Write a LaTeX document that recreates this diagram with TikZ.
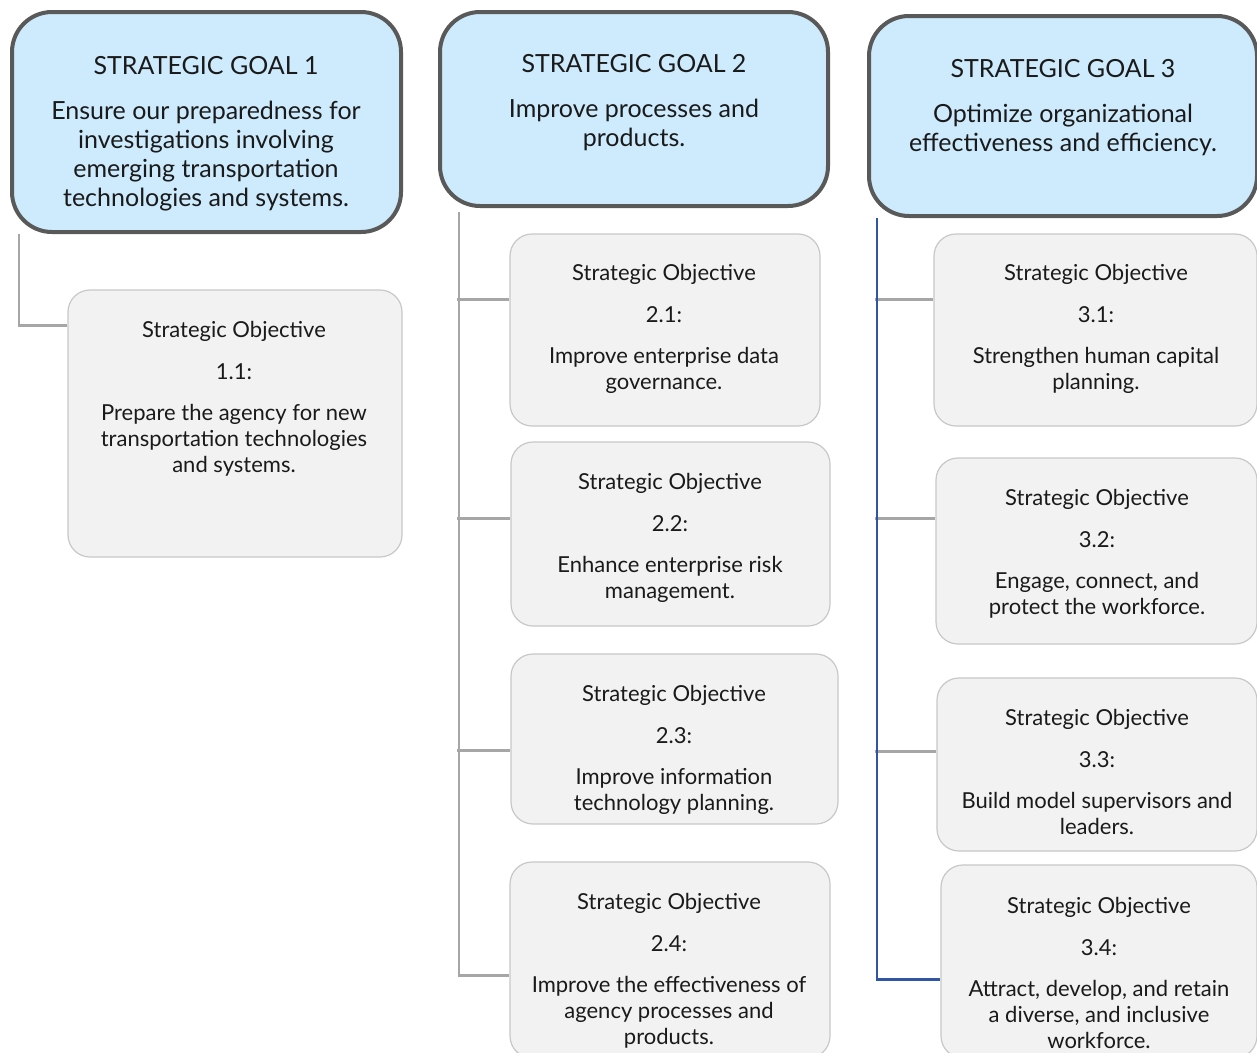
\documentclass[tikz,border=0pt]{standalone}
\usepackage{fontspec}
\setmainfont{Lato}
\usetikzlibrary{backgrounds}
\definecolor{goalfill}{HTML}{CDEBFD}
\definecolor{goalline}{HTML}{595959}
\definecolor{objfill}{HTML}{F2F2F2}
\definecolor{objline}{HTML}{C8C8C8}
\definecolor{connline}{HTML}{A6A6A6}
\definecolor{blueline}{HTML}{2F55A3}
\definecolor{txt}{HTML}{1A1A1A}
\tikzset{
  goalbox/.style={draw=goalline, line width=4pt, fill=goalfill, rounded corners=40pt, inner sep=0pt},
  objbox/.style={draw=objline, line width=1.2pt, fill=objfill, rounded corners=22pt, inner sep=0pt},
  goaltext/.style={anchor=north, inner sep=0pt, align=center, text=txt, font=\fontsize{25}{29}\selectfont},
  objtext/.style={anchor=north, inner sep=0pt, align=center, text=txt, font=\fontsize{22}{26}\selectfont},
  conn/.style={draw=connline, line width=2.2pt},
  bconn/.style={draw=blueline, line width=2.2pt},
}
\begin{document}
\begin{tikzpicture}[x=1pt,y=-1pt]
\clip (0,0) rectangle (1257,1052);
% goals
\node[goalbox, minimum width=389pt, minimum height=220pt] (g1) at (206.5,122) {};
\node[goalbox, minimum width=388pt, minimum height=194pt] (g2) at (634,109) {};
\node[goalbox, minimum width=388pt, minimum height=200pt] (g3) at (1063,116) {};
\node[goaltext] (g1t) at (206,56) {STRATEGIC GOAL 1\\[16pt]Ensure our preparedness for\\investigations involving\\emerging transportation\\technologies and systems.};
\node[goaltext] (g2t) at (634,54) {STRATEGIC GOAL 2\\[16pt]Improve processes and\\products.};
\node[goaltext] (g3t) at (1063,59) {STRATEGIC GOAL 3\\[16pt]Optimize organizational\\effectiveness and efficiency.};
% objectives
\node[objbox, minimum width=334pt, minimum height=267pt] (o11) at (235,423.5) {};
\node[objbox, minimum width=310pt, minimum height=192pt] (o21) at (665,330) {};
\node[objbox, minimum width=319pt, minimum height=184pt] (o22) at (670.5,534) {};
\node[objbox, minimum width=327pt, minimum height=170pt] (o23) at (674.5,739) {};
\node[objbox, minimum width=320pt, minimum height=196pt] (o24) at (670,960) {};
\node[objbox, minimum width=323pt, minimum height=192pt] (o31) at (1095.5,330) {};
\node[objbox, minimum width=321pt, minimum height=186pt] (o32) at (1096.5,551) {};
\node[objbox, minimum width=320pt, minimum height=173pt] (o33) at (1097,764.5) {};
\node[objbox, minimum width=316pt, minimum height=193pt] (o34) at (1099,961.5) {};
\node[objtext] (o11t) at (234,321.5) {Strategic Objective\\[16pt]1.1:\\[15pt]Prepare the agency for new\\transportation technologies\\and systems.};
\node[objtext] (o21t) at (664,264.5) {Strategic Objective\\[16pt]2.1:\\[15pt]Improve enterprise data\\governance.};
\node[objtext] (o22t) at (670,473.5) {Strategic Objective\\[16pt]2.2:\\[15pt]Enhance enterprise risk\\management.};
\node[objtext] (o23t) at (674,685.5) {Strategic Objective\\[16pt]2.3:\\[15pt]Improve information\\technology planning.};
\node[objtext] (o24t) at (669,893.5) {Strategic Objective\\[16pt]2.4:\\[15pt]Improve the effectiveness of\\agency processes and\\products.};
\node[objtext] (o31t) at (1096,264.5) {Strategic Objective\\[16pt]3.1:\\[15pt]Strengthen human capital\\planning.};
\node[objtext] (o32t) at (1097,489.5) {Strategic Objective\\[16pt]3.2:\\[15pt]Engage, connect, and\\protect the workforce.};
\node[objtext] (o33t) at (1097,709.5) {Strategic Objective\\[16pt]3.3:\\[15pt]Build model supervisors and\\leaders.};
\node[objtext] (o34t) at (1099,897.5) {Strategic Objective\\[16pt]3.4:\\[15pt]Attract, develop, and retain\\a diverse, and inclusive\\workforce.};
% connectors
\begin{scope}[on background layer]
\fill[white] (0,0) rectangle (1257,1052);
\coordinate (t1) at ([xshift=9pt]g1.south west);
\coordinate (b11) at ([yshift=-36pt]o11.north west);
\draw[conn] (t1) |- (b11);
\coordinate (t2) at ([xshift=21pt,yshift=-4pt]g2.south west);
\coordinate (b21) at ([yshift=-66pt]o21.north west);
\coordinate (b22) at ([yshift=-77pt]o22.north west);
\coordinate (b23) at ([yshift=-97pt]o23.north west);
\coordinate (b24) at ([yshift=-114pt]o24.north west);
\draw[conn] (t2) |- (b24);
\draw[conn] ([xshift=-2pt]t2 |- b21) -- (b21);
\draw[conn] ([xshift=-2pt]t2 |- b22) -- (b22);
\draw[conn] ([xshift=-2pt]t2 |- b23) -- (b23);
\coordinate (t3) at ([xshift=10pt]g3.south west);
\coordinate (b31) at ([yshift=-66pt]o31.north west);
\coordinate (b32) at ([yshift=-61pt]o32.north west);
\coordinate (b33) at ([yshift=-74pt]o33.north west);
\coordinate (b34) at ([yshift=-115pt]o34.north west);
\draw[conn] ([xshift=-2pt]t3 |- b31) -- (b31);
\draw[conn] ([xshift=-2pt]t3 |- b32) -- (b32);
\draw[conn] ([xshift=-2pt]t3 |- b33) -- (b33);
\draw[bconn] (t3) |- (b34);
\end{scope}
\end{tikzpicture}
\end{document}
